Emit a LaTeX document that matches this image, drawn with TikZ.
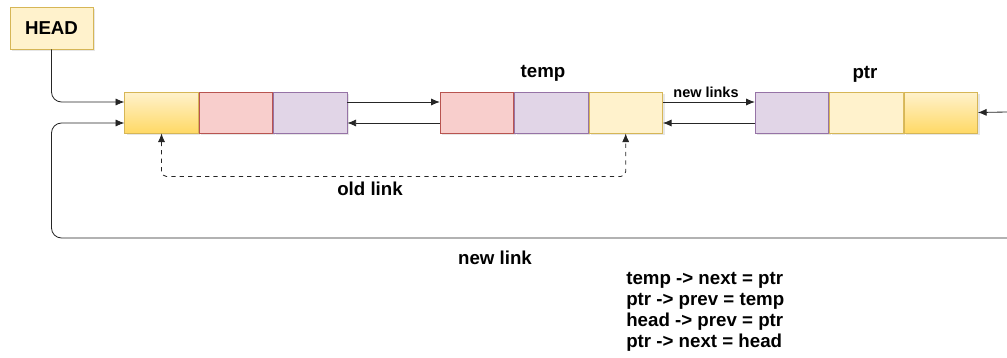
\documentclass[tikz,border=0pt]{standalone}
\usepackage{fontspec}
\setmainfont{Liberation Sans}
\usetikzlibrary{positioning,shadows,arrows.meta}

\definecolor{noteFill}{HTML}{FFF2CC}
\definecolor{noteLine}{HTML}{D6B656}
\definecolor{noteDeep}{HTML}{FFD966}
\definecolor{redFill}{HTML}{F8CECC}
\definecolor{redLine}{HTML}{B85450}
\definecolor{violetFill}{HTML}{E1D5E7}
\definecolor{violetLine}{HTML}{9673A6}

\tikzset{
  cell/.style={draw, minimum width=1.8375cm, minimum height=1.025cm, inner sep=0pt, line width=0.6pt,
    drop shadow={shadow xshift=1.5pt, shadow yshift=-1.5pt, opacity=0.2}},
  yellowcell/.style={cell, draw=noteLine, fill=noteFill},
  goldcell/.style={cell, draw=noteLine, top color=noteFill, bottom color=noteDeep},
  redcell/.style={cell, draw=redLine, fill=redFill},
  violetcell/.style={cell, draw=violetLine, fill=violetFill},
  lbl/.style={font=\fontsize{13.3}{14.9}\selectfont\bfseries, inner sep=0pt},
  smalllbl/.style={font=\fontsize{10.3}{12}\selectfont\bfseries, inner sep=0pt},
  link/.style={>={Latex[length=2.2mm,width=1.8mm]}, ->, line width=0.6pt, draw=black!85},
}

\begin{document}
\begin{tikzpicture}
\useasboundingbox (0,0) rectangle (25.175,-8.95);

\node[yellowcell, lbl, minimum width=2.075cm, minimum height=1.05cm] (head) at (1.2875,-0.7) {HEAD};

\node[goldcell] (n1a) at (4.0375,-2.8125) {};
\node[redcell, right=0pt of n1a] (n1b) {};
\node[violetcell, right=0pt of n1b] (n1c) {};

\node[redcell] (n2a) at (11.925,-2.8125) {};
\node[violetcell, right=0pt of n2a] (n2b) {};
\node[yellowcell, right=0pt of n2b] (n2c) {};
\node[lbl] (temp) at (13.575,-1.825) {temp};

\node[violetcell] (n3a) at (19.8,-2.8125) {};
\node[yellowcell, right=0pt of n3a] (n3b) {};
\node[goldcell, right=0pt of n3b] (n3c) {};
\node[lbl] (ptr) at (21.625,-1.85) {ptr};

\draw[link, rounded corners=.25cm] (head.south) |- ([yshift=.2625cm]n1a.west);

\draw[link] ([yshift=.2625cm]n1c.east) -- ([yshift=.2625cm]n2a.west);
\draw[link] ([yshift=-.2625cm]n2a.west) -- ([yshift=-.2625cm]n1c.east);

\draw[link] ([yshift=.2625cm]n2c.east) -- ([yshift=.2625cm]n3a.west);
\draw[link] ([yshift=-.2625cm]n3a.west) -- ([yshift=-.2625cm]n2c.east);
\node[smalllbl] (newlinks) at (17.65,-2.3) {new links};

\coordinate (rightin) at (25.175,-2.8);
\draw[link] (rightin) -- (n3c.east);

\draw[link, <->, dashed, rounded corners=.12cm] (n1a.south) -- ++(0,-1.075) -| (n2c.south);
\node[lbl] (oldlink) at (9.25,-4.72) {old link};

\coordinate (loopend) at (25.175,-5.95);
\draw[link, rounded corners=.25cm] (loopend) -- (head.south |- loopend) |- ([yshift=-.2625cm]n1a.west);
\node[lbl] (newlink) at (12.375,-6.45) {new link};

\node[lbl, align=left, anchor=west] (code) at (15.65,-7.8) {temp -> next = ptr\\ptr -> prev = temp\\head -> prev = ptr\\ptr -> next = head};

\end{tikzpicture}
\end{document}
